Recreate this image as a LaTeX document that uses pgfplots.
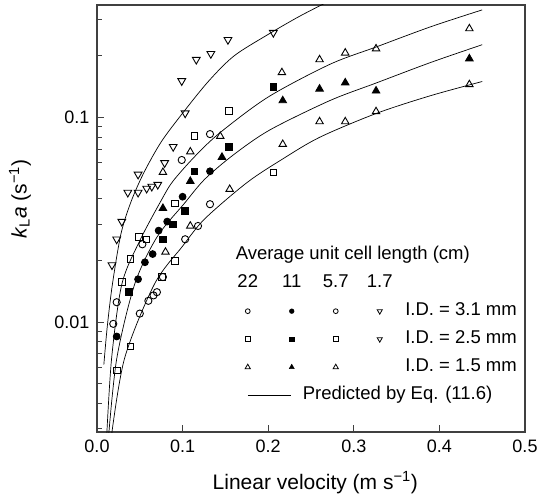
\documentclass[border=0pt]{standalone}
\usepackage{fontspec}
\setmainfont{Liberation Sans}
\usepackage{pgfplots}
\pgfplotsset{compat=1.18}

\pgfplotsset{
  lgcell/.style={legend image code/.code={%
      \path[draw=none, fill=none] (-21.5pt,-8.5pt) rectangle (21.5pt,8.5pt);
      \draw[##1] plot coordinates {(0pt,0pt)};}},
  lgtext/.style={legend image code/.code={%
      \path[draw=none, fill=none] (-21.5pt,-8.5pt) rectangle (21.5pt,8.5pt);
      \node[inner sep=0pt, anchor=center] at (0pt,0pt) {#1};}},
  pts/.style={only marks, black, line width=0.9pt, mark options={solid}},
  fit/.style={black, line width=0.7pt, smooth, tension=0.5, no marks},
}

\begin{document}
\begin{tikzpicture}
\begin{axis}[
  scale only axis, width=428pt, height=427pt,
  xmin=0, xmax=0.5,
  ymode=log, ymin=0.0029, ymax=0.355,
  axis line style={line width=1.6pt, black!75},
  tick align=inside, xtick pos=bottom, ytick pos=left,
  xtick={0,0.1,0.2,0.3,0.4,0.5},
  xticklabels={0.0,0.1,0.2,0.3,0.4,0.5},
  ytick={0.01,0.1}, yticklabels={0.01,0.1},
  minor ytick={0.003,0.004,0.005,0.006,0.007,0.008,0.009,0.02,0.03,0.04,0.05,0.06,0.07,0.08,0.09,0.2,0.3},
  major tick length=7pt, minor tick length=5pt,
  every tick/.style={black!75, line width=1pt},
  font=\fontsize{18}{21}\selectfont,
  /pgf/number format/assume math mode=true,
  xticklabel style={yshift=-4pt},
  yticklabel style={xshift=-4pt},
  xlabel={Linear velocity (m s\textsuperscript{−1})},
  ylabel={\textit{k}\textsubscript{L}\textit{a} (s\textsuperscript{−1})},
  label style={font=\fontsize{21}{24}\selectfont},
  xlabel style={at={(axis description cs:0.51,-0.119)}, anchor=center},
  ylabel style={at={(axis description cs:-0.18,0.545)}, anchor=center},
  legend columns=4,
  legend style={draw=none, fill=none, inner sep=0pt, outer sep=0pt,
    at={(rel axis cs:0.302,0.434)}, anchor=north west,
    column sep=0pt, row sep=11pt,
    /tikz/every even column/.style={column sep=0pt},
    /tikz/every odd column/.style={column sep=0pt},
    nodes={inner sep=0pt, text height=13pt, text depth=4pt,
      font=\fontsize{18.5}{21}\selectfont}},
  legend cell align=left,
]

% legend rows
\addlegendimage{legend image code/.code={%
    \path[draw=none, fill=none] (-21.5pt,-8.5pt) rectangle (21.5pt,8.5pt);
    \node[overlay, anchor=west, inner sep=0pt] at (-12pt,0pt) {Average unit cell length (cm)};}}
\addlegendentry{}
\addlegendimage{lgtext={}}\addlegendentry{}
\addlegendimage{lgtext={}}\addlegendentry{}
\addlegendimage{lgtext={}}\addlegendentry{}

\addlegendimage{lgtext=22}\addlegendentry{}
\addlegendimage{lgtext=11}\addlegendentry{}
\addlegendimage{lgtext=5.7}\addlegendentry{}
\addlegendimage{lgtext=1.7}\addlegendentry{}

\addlegendimage{black, line width=0.8pt, mark=o, mark size=2.4pt, lgcell}\addlegendentry{}
\addlegendimage{black, mark=*, mark size=2.4pt, lgcell}\addlegendentry{}
\addlegendimage{black, line width=0.8pt, mark=o, mark size=2.4pt, lgcell}\addlegendentry{}
\addlegendimage{black, line width=0.8pt, mark=triangle, mark size=3pt, mark options={rotate=180}, lgcell}\addlegendentry{\hspace{4pt}I.D. = 3.1 mm}

\addlegendimage{black, line width=0.8pt, mark=square, mark size=2.3pt, lgcell}\addlegendentry{}
\addlegendimage{black, mark=square*, mark size=2.3pt, lgcell}\addlegendentry{}
\addlegendimage{black, line width=0.8pt, mark=square, mark size=2.3pt, lgcell}\addlegendentry{}
\addlegendimage{black, line width=0.8pt, mark=triangle, mark size=3pt, mark options={rotate=180}, lgcell}\addlegendentry{\hspace{4pt}I.D. = 2.5 mm}

\addlegendimage{black, line width=0.8pt, mark=triangle, mark size=3pt, lgcell}\addlegendentry{}
\addlegendimage{black, mark=triangle*, mark size=3pt, lgcell}\addlegendentry{}
\addlegendimage{black, line width=0.8pt, mark=triangle, mark size=3pt, lgcell}\addlegendentry{}
\addlegendimage{lgtext={}}\addlegendentry{\hspace{4pt}I.D. = 1.5 mm}

\addlegendimage{legend image code/.code={%
    \path[draw=none, fill=none] (-21.5pt,-8.5pt) rectangle (21.5pt,8.5pt);
    \draw[overlay, black, line width=0.7pt] (0pt,0pt) -- (43pt,0pt);
    \node[overlay, anchor=west, inner sep=0pt] at (55pt,0pt) {Predicted by Eq. (11.6)};}}
\addlegendentry{}
\addlegendimage{lgtext={}}\addlegendentry{}
\addlegendimage{lgtext={}}\addlegendentry{}
\addlegendimage{lgtext={}}\addlegendentry{}

% predicted curves
\addplot[fit, forget plot] coordinates {
  (0.008,0.0062) (0.012,0.0095) (0.018,0.0153) (0.028,0.027) (0.040,0.039)
  (0.055,0.054) (0.075,0.076) (0.100,0.105) (0.130,0.150) (0.160,0.200)
  (0.200,0.255) (0.235,0.310) (0.265,0.360)
};
\addplot[fit, forget plot] coordinates {
  (0.011,0.0026) (0.017,0.0066) (0.029,0.0153) (0.050,0.025) (0.076,0.040)
  (0.089,0.049) (0.115,0.065) (0.144,0.0845) (0.200,0.126) (0.272,0.182)
  (0.327,0.222) (0.390,0.278) (0.450,0.336)
};
\addplot[fit, forget plot] coordinates {
  (0.013,0.0026) (0.023,0.0066) (0.044,0.0153) (0.070,0.026) (0.102,0.038)
  (0.126,0.050) (0.160,0.066) (0.202,0.087) (0.272,0.121) (0.327,0.148)
  (0.390,0.186) (0.450,0.227)
};
\addplot[fit, forget plot] coordinates {
  (0.016,0.0026) (0.032,0.0066) (0.067,0.0153) (0.100,0.0235) (0.126,0.032)
  (0.175,0.048) (0.215,0.062) (0.260,0.080) (0.327,0.105) (0.390,0.128)
  (0.450,0.150)
};

% 1.7 cm, inverted triangles
\addplot[pts, mark=triangle, mark size=4.5pt, mark options={rotate=180}, forget plot] coordinates {
  (0.0175,0.019) (0.023,0.0254) (0.029,0.031) (0.036,0.043) (0.048,0.043)
  (0.058,0.045) (0.064,0.046) (0.071,0.047) (0.048,0.0527) (0.079,0.060)
  (0.089,0.072) (0.103,0.105) (0.099,0.151) (0.116,0.192) (0.133,0.205)
  (0.153,0.240) (0.206,0.260)
};
% open circles
\addplot[pts, mark=o, mark size=3.6pt, forget plot] coordinates {
  (0.019,0.0098) (0.023,0.0125) (0.050,0.011) (0.060,0.0127) (0.066,0.0135)
  (0.070,0.014) (0.077,0.0166) (0.103,0.0254) (0.118,0.0295) (0.132,0.0377)
  (0.053,0.024) (0.099,0.062) (0.132,0.083)
};
% open squares
\addplot[pts, mark=square, mark size=3.3pt, forget plot] coordinates {
  (0.023,0.0058) (0.039,0.0076) (0.029,0.0157) (0.039,0.0203) (0.049,0.026)
  (0.058,0.0254) (0.076,0.0166) (0.091,0.0199) (0.091,0.038) (0.114,0.081)
  (0.154,0.108) (0.206,0.054)
};
% open triangles
\addplot[pts, mark=triangle, mark size=4.3pt, forget plot] coordinates {
  (0.077,0.054) (0.109,0.068) (0.144,0.081) (0.080,0.022) (0.109,0.0295)
  (0.155,0.0446) (0.217,0.074) (0.260,0.0955) (0.290,0.0955) (0.326,0.107)
  (0.435,0.145) (0.216,0.166) (0.260,0.192) (0.290,0.207) (0.326,0.217)
  (0.435,0.272)
};
% filled circles
\addplot[pts, mark=*, mark size=3.4pt, forget plot] coordinates {
  (0.023,0.0085) (0.048,0.0162) (0.056,0.0196) (0.065,0.0215) (0.072,0.028)
  (0.082,0.031) (0.100,0.041) (0.132,0.0546)
};
% filled squares
\addplot[pts, mark=square*, mark size=3.3pt, forget plot] coordinates {
  (0.037,0.014) (0.077,0.0254) (0.089,0.030) (0.103,0.035) (0.114,0.0546)
  (0.154,0.072) (0.206,0.1415)
};
% filled triangles
\addplot[pts, mark=triangle*, mark size=4.3pt, forget plot] coordinates {
  (0.077,0.036) (0.109,0.0488) (0.146,0.064) (0.217,0.121) (0.260,0.138)
  (0.290,0.148) (0.326,0.135) (0.435,0.194)
};
\end{axis}
\pgfresetboundingbox
\path ([xshift=-97pt,yshift=-65pt]current axis.south west) rectangle ([xshift=15pt,yshift=5pt]current axis.north east);
\end{tikzpicture}
\end{document}
